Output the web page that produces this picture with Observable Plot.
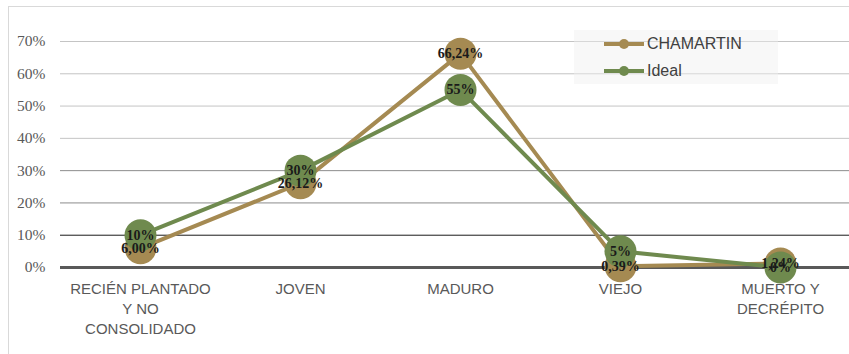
<!DOCTYPE html>
<html><head><meta charset="utf-8">
<script src="https://cdn.jsdelivr.net/npm/d3@7"></script>
<script src="https://cdn.jsdelivr.net/npm/@observablehq/plot@0.6"></script>
<style>
body{margin:0;background:#fff;width:849px;height:354px;overflow:hidden;position:relative;}
#frame{position:absolute;left:8px;top:6px;width:900px;height:400px;border:1px solid #d9d9d9;box-sizing:border-box;}
#chart{position:absolute;left:0;top:0;}
#legend{position:absolute;left:574px;top:30px;width:204px;height:54px;background:rgba(240,240,240,0.45);font-family:"Liberation Sans",Arial,sans-serif;font-size:16px;color:#404040;}
.item{position:absolute;left:30px;height:20px;display:flex;align-items:center;}
.sw{position:relative;width:40px;height:4px;margin-right:3px;}
.sw i{position:absolute;left:15px;top:-3px;width:10px;height:10px;border-radius:50%;}
</style></head>
<body>
<div id="frame"></div>
<div id="chart"></div>
<div id="legend"></div>
<script>
const categories = ["RECIÉN PLANTADO\nY NO\nCONSOLIDADO", "JOVEN", "MADURO", "VIEJO", "MUERTO Y\nDECRÉPITO"];
const chamartin = [6.00, 26.12, 66.24, 0.39, 1.24];
const chamartinLabels = ["6,00%", "26,12%", "66,24%", "0,39%", "1,24%"];
const ideal = [10, 30, 55, 5, 0];
const idealLabels = ["10%", "30%", "55%", "5%", "0%"];
const yTicks = [0, 10, 20, 30, 40, 50, 60, 70];
const seriesNames = ["CHAMARTIN", "Ideal"];
const colors = ["#a58a52", "#6f8a4e"];

const dataC = categories.map((c, i) => ({cat: c, v: chamartin[i], label: chamartinLabels[i]}));
const dataI = categories.map((c, i) => ({cat: c, v: ideal[i], label: idealLabels[i]}));
const gridColor = v => v === 10 ? "#1a1a1a" : (v === 20 || v === 30) ? "#8c8c8c" : "#c4c4c4";

const chart = Plot.plot({
  width: 849, height: 354,
  marginLeft: 60, marginRight: 0, marginTop: 41, marginBottom: 87,
  x: {type: "point", domain: categories, range: [140, 780], padding: 0, axis: null},
  y: {domain: [0, 70], axis: null},
  marks: [
    Plot.ruleY(yTicks.filter(v => v > 0), {y: d => d, stroke: gridColor, strokeWidth: 1}),
    Plot.ruleY([0], {y: d => d, stroke: "#595959", strokeWidth: 3}),
    Plot.text(yTicks, {y: d => d, frameAnchor: "left", dx: -15, textAnchor: "end", text: d => d + "%", fontFamily: "Liberation Serif", fontSize: 15.5, fill: "#595959"}),
    Plot.text(categories, {x: d => d, frameAnchor: "bottom", dy: 12, lineAnchor: "top", lineHeight: 1.33, text: d => d, fontFamily: "Liberation Sans", fontSize: 15, fill: "#595959"}),
    Plot.line(dataC, {x: "cat", y: "v", stroke: colors[0], strokeWidth: 4}),
    Plot.dot(dataC, {x: "cat", y: "v", r: 16, fill: colors[0]}),
    Plot.line(dataI, {x: "cat", y: "v", stroke: colors[1], strokeWidth: 4}),
    Plot.dot(dataI, {x: "cat", y: "v", r: 16, fill: colors[1]}),
    Plot.text(dataC, {x: "cat", y: "v", text: "label", fontFamily: "Liberation Serif", fontWeight: "bold", fontSize: 14, fill: "#1a1a1a"}),
    Plot.text(dataI, {x: "cat", y: "v", text: "label", fontFamily: "Liberation Serif", fontWeight: "bold", fontSize: 14, fill: "#1a1a1a"})
  ]
});
document.getElementById("chart").appendChild(chart);

const lg = document.getElementById("legend");
seriesNames.forEach((n, i) => {
  const d = document.createElement("div");
  d.className = "item";
  d.style.top = (4 + i * 27) + "px";
  d.innerHTML = `<span class="sw" style="background:${colors[i]}"><i style="background:${colors[i]}"></i></span><span>${n}</span>`;
  lg.appendChild(d);
});
</script>
</body></html>
